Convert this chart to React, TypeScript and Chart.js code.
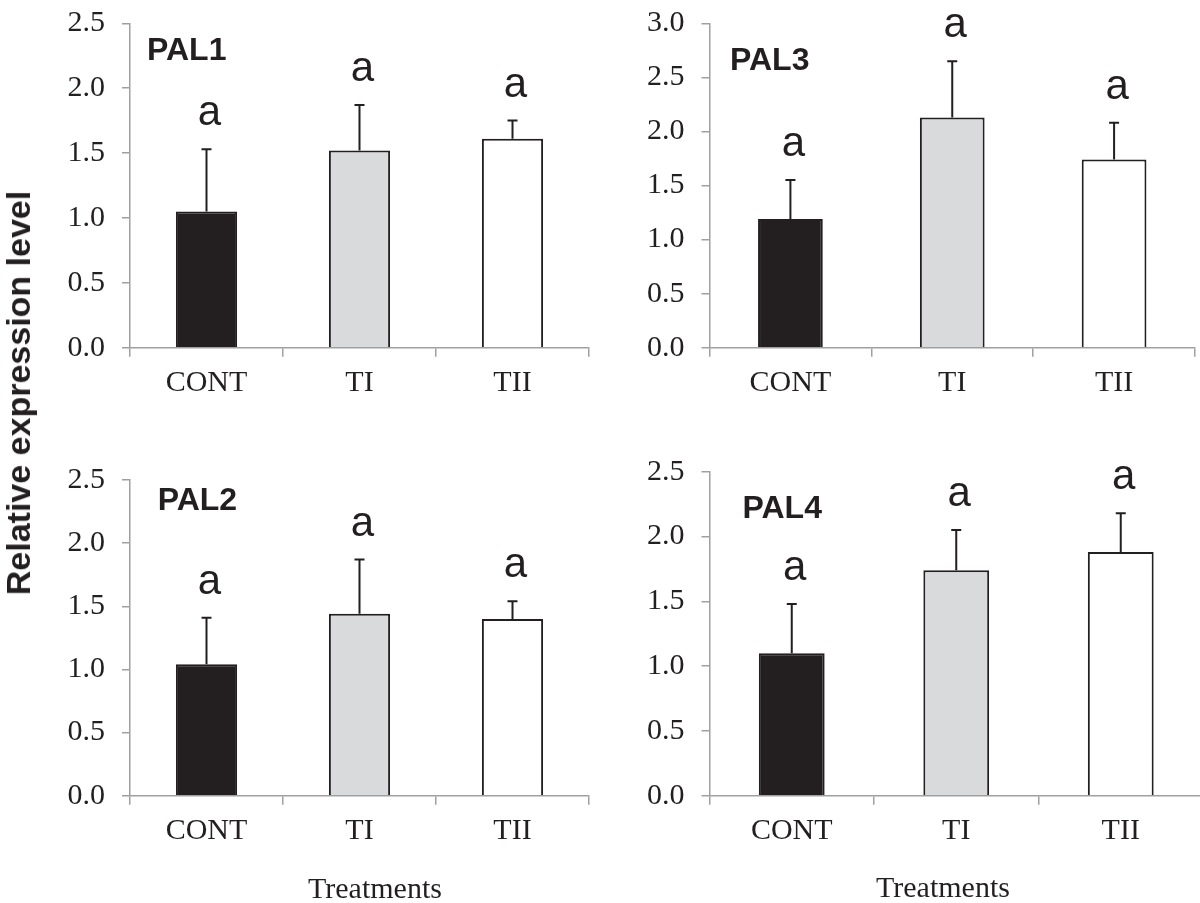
import React, { useEffect, useRef } from 'react';
import { Chart, registerables } from 'chart.js';

Chart.register(...registerables);

// ---------- data ----------
const CATEGORIES = ['CONT', 'TI', 'TII'];

const PAL1_MEANS = [1.05, 1.52, 1.61];
const PAL1_SD = [0.48, 0.35, 0.14];
const PAL1_LETTERS = ['a', 'a', 'a'];

const PAL3_MEANS = [1.19, 2.13, 1.74];
const PAL3_SD = [0.36, 0.52, 0.34];
const PAL3_LETTERS = ['a', 'a', 'a'];

const PAL2_MEANS = [1.04, 1.44, 1.40];
const PAL2_SD = [0.37, 0.43, 0.14];
const PAL2_LETTERS = ['a', 'a', 'a'];

const PAL4_MEANS = [1.10, 1.74, 1.88];
const PAL4_SD = [0.38, 0.31, 0.30];
const PAL4_LETTERS = ['a', 'a', 'a'];

const Y_TITLE = 'Relative expression level';
const X_TITLE = 'Treatments';

// ---------- styles ----------
const SERIF = '"Liberation Serif", "Times New Roman", serif';
const SANS = '"Liberation Sans", Arial, sans-serif';
const INK = '#231f20';
const AXIS = '#a0a0a0';
const BAR_FILLS = ['#231f20', '#d9dadc', '#ffffff'];

type PanelCfg = {
  name: string;
  means: number[];
  sd: number[];
  letters: string[];
  yMax: number;
  left: number;
  top: number;
  w: number;
  h: number;
  yWidth: number;
  xHeight: number;
  padTop: number;
  padRight: number;
  titleDx: number;
  titleDy: number;
};

const PANELS: PanelCfg[] = [
  { name: 'PAL1', means: PAL1_MEANS, sd: PAL1_SD, letters: PAL1_LETTERS, yMax: 2.5,
    left: 0, top: 0, w: 600, h: 450, yWidth: 130, xHeight: 102.3, padTop: 23.3, padRight: 11,
    titleDx: 17, titleDy: 37 },
  { name: 'PAL3', means: PAL3_MEANS, sd: PAL3_SD, letters: PAL3_LETTERS, yMax: 3.0,
    left: 600, top: 0, w: 600, h: 450, yWidth: 109.5, xHeight: 102.3, padTop: 23.3, padRight: 5,
    titleDx: 20.5, titleDy: 47 },
  { name: 'PAL2', means: PAL2_MEANS, sd: PAL2_SD, letters: PAL2_LETTERS, yMax: 2.5,
    left: 0, top: 450, w: 600, h: 453, yWidth: 130, xHeight: 107.3, padTop: 30, padRight: 11,
    titleDx: 27.7, titleDy: 30 },
  { name: 'PAL4', means: PAL4_MEANS, sd: PAL4_SD, letters: PAL4_LETTERS, yMax: 2.5,
    left: 600, top: 450, w: 603, h: 453, yWidth: 109.5, xHeight: 107.3, padTop: 21.7, padRight: 0,
    titleDx: 33, titleDy: 46.3 },
];

function Panel({ p }: { p: PanelCfg }) {
  const ref = useRef<HTMLCanvasElement | null>(null);

  useEffect(() => {
    const canvas = ref.current;
    if (!canvas) return;

    const overlay = {
      id: 'errorsAndLetters',
      afterDatasetsDraw(chart: any) {
        const ctx = chart.ctx as CanvasRenderingContext2D;
        const yScale = chart.scales.y;
        const meta = chart.getDatasetMeta(0);
        ctx.save();
        ctx.strokeStyle = INK;
        ctx.lineWidth = 2;
        meta.data.forEach((bar: any, i: number) => {
          const x = bar.x;
          const yBase = yScale.getPixelForValue(p.means[i]);
          const yTop = yScale.getPixelForValue(p.means[i] + p.sd[i]);
          ctx.beginPath();
          ctx.moveTo(x, yBase);
          ctx.lineTo(x, yTop);
          ctx.moveTo(x - 5, yTop);
          ctx.lineTo(x + 5, yTop);
          ctx.stroke();
          ctx.fillStyle = INK;
          ctx.font = `42px ${SANS}`;
          ctx.textAlign = 'center';
          ctx.textBaseline = 'alphabetic';
          ctx.fillText(p.letters[i], x + 3, yTop - 24);
        });
        const area = chart.chartArea;
        ctx.font = `bold 32px ${SANS}`;
        ctx.textAlign = 'left';
        ctx.textBaseline = 'alphabetic';
        ctx.fillStyle = INK;
        ctx.fillText(p.name, area.left + p.titleDx, area.top + p.titleDy);
        ctx.restore();
      },
    };

    const chart = new Chart(canvas, {
      type: 'bar',
      data: {
        labels: CATEGORIES,
        datasets: [
          {
            data: p.means,
            backgroundColor: BAR_FILLS,
            borderColor: INK,
            borderWidth: 2,
            barPercentage: 0.4,
            categoryPercentage: 1,
          },
        ],
      },
      options: {
        responsive: false,
        maintainAspectRatio: false,
        animation: false,
        devicePixelRatio: 1,
        layout: { padding: { left: 0, right: p.padRight, top: p.padTop, bottom: 0 } },
        plugins: {
          legend: { display: false },
          tooltip: { enabled: false },
          title: { display: false },
        },
        scales: {
          x: {
            type: 'category',
            offset: true,
            grid: { offset: true, drawOnChartArea: false, tickLength: 9, color: AXIS, lineWidth: 1.5 },
            border: { color: AXIS, width: 1.5 },
            ticks: { font: { family: SERIF, size: 30 }, color: INK, padding: 8, maxRotation: 0, autoSkip: false },
            afterFit: (s: any) => {
              s.height = p.xHeight;
              s.paddingLeft = 0;
              s.paddingRight = 0;
            },
          },
          y: {
            min: 0,
            max: p.yMax,
            ticks: {
              stepSize: 0.5,
              font: { family: SERIF, size: 30 },
              color: INK,
              padding: 17,
              callback: (v: any) => Number(v).toFixed(1),
            },
            grid: { drawOnChartArea: false, tickLength: 8, color: AXIS, lineWidth: 1.5 },
            border: { color: AXIS, width: 1.5 },
            afterFit: (s: any) => {
              s.width = p.yWidth;
              s.paddingTop = 0;
              s.paddingBottom = 0;
            },
          },
        },
      } as any,
      plugins: [overlay],
    });

    return () => chart.destroy();
  }, [p]);

  return (
    <canvas
      ref={ref}
      width={p.w}
      height={p.h}
      style={{ position: 'absolute', left: p.left, top: p.top, width: p.w, height: p.h }}
    />
  );
}

export default function App() {
  return (
    <div
      style={{
        position: 'absolute',
        left: 0,
        top: 0,
        width: 1200,
        height: 903,
        overflow: 'hidden',
        background: '#ffffff',
      }}
    >
      {PANELS.map((p) => (
        <Panel key={p.name} p={p} />
      ))}
      <div
        style={{
          position: 'absolute',
          left: 18,
          top: 393,
          transform: 'translate(-50%, -50%) rotate(-90deg)',
          whiteSpace: 'nowrap',
          fontFamily: SANS,
          fontWeight: 'bold',
          fontSize: 34,
          lineHeight: '34px',
          color: INK,
        }}
      >
        {Y_TITLE}
      </div>
      <div
        style={{
          position: 'absolute',
          left: 275,
          top: 873,
          width: 200,
          textAlign: 'center',
          fontFamily: SERIF,
          fontSize: 30,
          lineHeight: '30px',
          color: INK,
        }}
      >
        {X_TITLE}
      </div>
      <div
        style={{
          position: 'absolute',
          left: 843,
          top: 872,
          width: 200,
          textAlign: 'center',
          fontFamily: SERIF,
          fontSize: 30,
          lineHeight: '30px',
          color: INK,
        }}
      >
        {X_TITLE}
      </div>
    </div>
  );
}
